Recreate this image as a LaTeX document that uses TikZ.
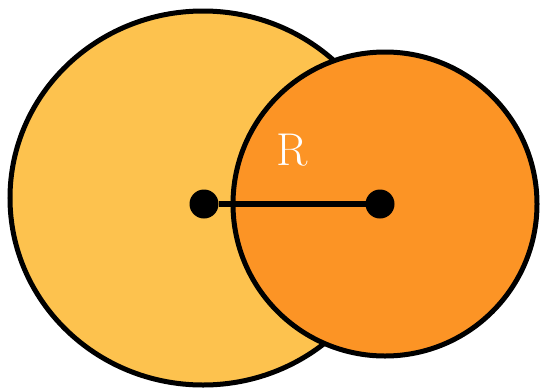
\documentclass[tikz,border=0pt]{standalone}
\usepackage{tikz}
\usetikzlibrary{shapes.geometric}
\definecolor{disc-light}{HTML}{FDC24E}
\definecolor{disc-dark}{HTML}{FC9425}

\begin{document}
\begin{tikzpicture}[x=1pt, y=-1pt, line width=5pt]
    \useasboundingbox (0,0) rectangle (543,389);
    \node[draw, ellipse, fill=disc-light, minimum width=386pt, minimum height=374pt, inner sep=0pt] (big) at (203,198) {};
    \node[draw, circle, fill=disc-dark, minimum size=304pt, inner sep=0pt] (small) at (385,204) {};
    \node[circle, fill=black, minimum size=29pt, inner sep=0pt, outer sep=0pt] (c1) at (204,204) {};
    \node[circle, fill=black, minimum size=29pt, inner sep=0pt, outer sep=0pt] (c2) at (380,204) {};
    \draw[line width=6pt] (c1) -- (c2);
    \node[white, font=\fontsize{46}{48}\selectfont] (r) at (292,150) {R};
\end{tikzpicture}
\end{document}
